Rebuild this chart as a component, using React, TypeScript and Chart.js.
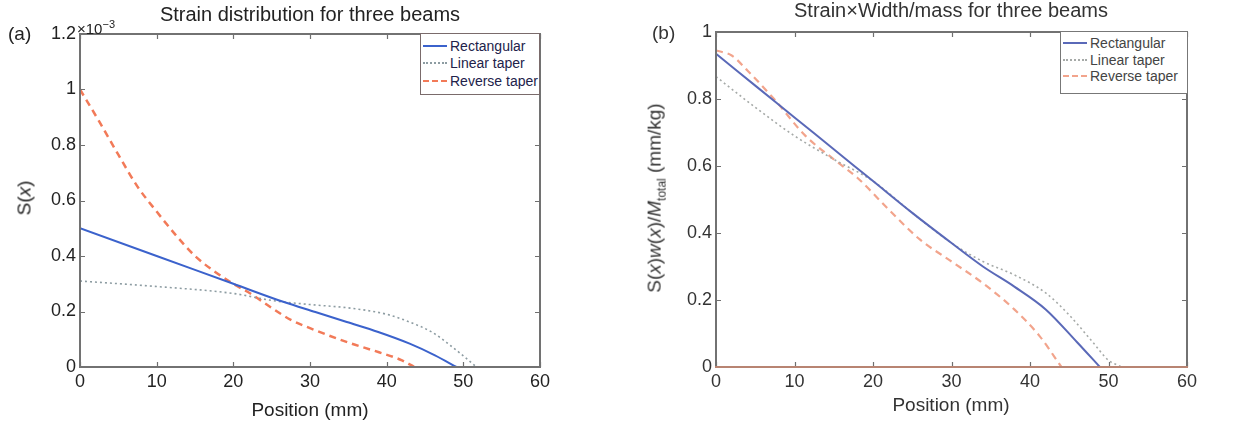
import React, { useEffect, useRef } from 'react';
import { Chart, registerables } from 'chart.js';

Chart.register(...registerables);

// ---------- data ----------
const xTickValues = [0, 10, 20, 30, 40, 50, 60];
const xTickLabels = ['0', '10', '20', '30', '40', '50', '60'];
const yTickValuesA = [0, 0.2, 0.4, 0.6, 0.8, 1.0, 1.2];
const yTickLabelsA = ['0', '0.2', '0.4', '0.6', '0.8', '1', '1.2'];
const yTickValuesB = [0, 0.2, 0.4, 0.6, 0.8, 1.0];
const yTickLabelsB = ['0', '0.2', '0.4', '0.6', '0.8', '1'];

const seriesNames = ['Rectangular', 'Linear taper', 'Reverse taper'];

// (a) strain, in units of 1e-3
const posRectA = [0, 10, 20, 26.6, 30.7, 34.8, 38.9, 43, 46.3, 49.1];
const strainRectA = [0.5, 0.4, 0.3, 0.234, 0.198, 0.162, 0.126, 0.084, 0.042, 0];
const posLinA = [0, 10, 20, 25, 30, 35, 40, 43, 46, 48.2, 50, 51.7];
const strainLinA = [0.31, 0.29, 0.265, 0.24, 0.225, 0.213, 0.19, 0.162, 0.124, 0.08, 0.04, 0];
const posRevA = [0, 2.5, 5, 7.5, 10, 12.5, 15, 17.5, 20, 22.5, 25, 27.5, 30, 35, 39, 42, 43.6];
const strainRevA = [1.0, 0.885, 0.765, 0.65, 0.56, 0.475, 0.4, 0.345, 0.3, 0.26, 0.213, 0.17, 0.14, 0.088, 0.053, 0.024, 0];

// (b) strain x width / mass (mm/kg)
const posRectB = [0, 5, 10, 15, 20, 25, 30, 34, 38, 42, 46, 48.9];
const valRectB = [0.935, 0.84, 0.745, 0.65, 0.555, 0.46, 0.37, 0.3, 0.24, 0.172, 0.074, 0];
const posLinB = [0, 5, 10, 15, 20, 25, 30, 34, 38, 42, 45, 48, 50, 51.7];
const valLinB = [0.867, 0.775, 0.69, 0.62, 0.555, 0.46, 0.37, 0.315, 0.275, 0.221, 0.155, 0.074, 0.02, 0];
const posRevB = [0, 2, 4, 7.4, 11.4, 15, 18, 22, 26, 30, 34, 38, 41.2, 44];
const valRevB = [0.945, 0.93, 0.885, 0.8, 0.69, 0.62, 0.565, 0.47, 0.38, 0.315, 0.25, 0.172, 0.093, 0];

const FONT = '"Liberation Sans", Arial, Helvetica, sans-serif';

function pts(xs: number[], ys: number[]) {
  return xs.map((x, i) => ({ x, y: ys[i] }));
}

function framePlugin(bottomColor: string) {
  return {
    id: 'frameTicks',
    afterDatasetsDraw(chart: any) {
      const { ctx, chartArea, scales } = chart;
      const { left, right, top, bottom } = chartArea;
      const xs = scales.x;
      const ys = scales.y;
      ctx.save();
      ctx.strokeStyle = '#6f6f6f';
      ctx.lineWidth = 1.2;
      ctx.beginPath();
      xs.ticks.forEach((t: any) => {
        const px = Math.round(xs.getPixelForValue(t.value)) + 0.5;
        ctx.moveTo(px, bottom);
        ctx.lineTo(px, bottom - 5);
        ctx.moveTo(px, top);
        ctx.lineTo(px, top + 5);
      });
      ys.ticks.forEach((t: any) => {
        const py = Math.round(ys.getPixelForValue(t.value)) + 0.5;
        ctx.moveTo(left, py);
        ctx.lineTo(left + 5, py);
        ctx.moveTo(right, py);
        ctx.lineTo(right - 5, py);
      });
      ctx.stroke();
      ctx.lineWidth = 2;
      ctx.strokeStyle = '#727272';
      ctx.beginPath();
      ctx.moveTo(left, bottom);
      ctx.lineTo(left, top);
      ctx.lineTo(right, top);
      ctx.lineTo(right, bottom);
      ctx.stroke();
      ctx.strokeStyle = bottomColor;
      ctx.beginPath();
      ctx.moveTo(left - 1, bottom);
      ctx.lineTo(right + 1, bottom);
      ctx.stroke();
      ctx.restore();
    },
  };
}

type PanelOpts = {
  datasets: any[];
  yTicks: number[];
  yLabels: string[];
  yMax: number;
  padTop: number;
  padRight: number;
  yAxisW: number;
  xAxisH: number;
  bottomColor: string;
  tickColor: string;
};

function buildConfig(o: PanelOpts): any {
  return {
    type: 'line',
    data: { datasets: o.datasets },
    options: {
      animation: false,
      responsive: false,
      maintainAspectRatio: false,
      parsing: true,
      layout: { padding: { left: 0, top: o.padTop, right: o.padRight, bottom: 0 } },
      plugins: {
        legend: { display: false },
        title: { display: false },
        tooltip: { enabled: false },
      },
      elements: { point: { radius: 0 }, line: { cubicInterpolationMode: 'monotone' } },
      scales: {
        x: {
          type: 'linear',
          min: 0,
          max: 60,
          afterBuildTicks: (s: any) => {
            s.ticks = xTickValues.map((v) => ({ value: v }));
          },
          afterFit: (s: any) => {
            s.height = o.xAxisH;
          },
          grid: { display: false, drawTicks: false },
          border: { display: false },
          ticks: {
            padding: 4,
            color: o.tickColor,
            autoSkip: false,
            maxRotation: 0,
            font: { family: FONT, size: 18 },
            callback: (_v: any, i: number) => xTickLabels[i],
          },
        },
        y: {
          type: 'linear',
          min: 0,
          max: o.yMax,
          afterBuildTicks: (s: any) => {
            s.ticks = o.yTicks.map((v) => ({ value: v }));
          },
          afterFit: (s: any) => {
            s.width = o.yAxisW;
          },
          grid: { display: false, drawTicks: false },
          border: { display: false },
          ticks: {
            padding: 4,
            color: o.tickColor,
            autoSkip: false,
            font: { family: FONT, size: 18 },
            callback: (_v: any, i: number) => o.yLabels[i],
          },
        },
      },
    },
    plugins: [framePlugin(o.bottomColor)],
  };
}

function Panel({ left, width, opts }: { left: number; width: number; opts: PanelOpts }) {
  const ref = useRef<HTMLCanvasElement | null>(null);
  useEffect(() => {
    if (!ref.current) return;
    const chart = new Chart(ref.current, buildConfig(opts));
    return () => chart.destroy();
  }, []);
  return (
    <canvas
      ref={ref}
      width={width}
      height={427}
      style={{ position: 'absolute', left, top: 0, width, height: 427 }}
    />
  );
}

const txt = (extra: React.CSSProperties): React.CSSProperties => ({
  position: 'absolute',
  fontFamily: FONT,
  whiteSpace: 'nowrap',
  lineHeight: 1,
  ...extra,
});

function Legend({ left, top, width, height, rows, textColor, border, colors, styles }: any) {
  return (
    <div
      style={{
        position: 'absolute',
        left,
        top,
        width,
        height,
        boxSizing: 'border-box',
        border: `1.5px solid ${border}`,
        background: '#fff',
        paddingTop: 3,
      }}
    >
      {seriesNames.map((name, i) => (
        <div key={name} style={{ display: 'flex', alignItems: 'center', height: rows }}>
          <div
            style={{
              width: 24,
              marginLeft: 2,
              marginRight: 3,
              borderTop: `2px ${styles[i]} ${colors[i]}`,
            }}
          />
          <span style={{ fontFamily: FONT, fontSize: 14, color: textColor, lineHeight: 1 }}>{name}</span>
        </div>
      ))}
    </div>
  );
}

const colorsA = ['#3b62cc', '#8d9ca2', '#f27a58'];
const colorsB = ['#5a69b8', '#a6aaa8', '#f2a48c'];
const lineStyles = ['solid', 'dotted', 'dashed'];

export default function App() {
  const datasetsA = [
    { label: seriesNames[0], data: pts(posRectA, strainRectA), borderColor: colorsA[0], borderWidth: 2, fill: false },
    { label: seriesNames[1], data: pts(posLinA, strainLinA), borderColor: colorsA[1], borderWidth: 1.6, borderDash: [2, 3], fill: false },
    { label: seriesNames[2], data: pts(posRevA, strainRevA), borderColor: colorsA[2], borderWidth: 2.5, borderDash: [7, 5], fill: false },
  ];
  const datasetsB = [
    { label: seriesNames[0], data: pts(posRectB, valRectB), borderColor: colorsB[0], borderWidth: 2, fill: false },
    { label: seriesNames[1], data: pts(posLinB, valLinB), borderColor: colorsB[1], borderWidth: 1.6, borderDash: [2, 3], fill: false },
    { label: seriesNames[2], data: pts(posRevB, valRevB), borderColor: colorsB[2], borderWidth: 2.2, borderDash: [7, 5], fill: false },
  ];
  const optsA: PanelOpts = {
    datasets: datasetsA,
    yTicks: yTickValuesA,
    yLabels: yTickLabelsA,
    yMax: 1.2,
    padTop: 34,
    padRight: 622 - 540,
    yAxisW: 80,
    xAxisH: 427 - 367,
    bottomColor: '#727272',
    tickColor: '#222',
  };
  const optsB: PanelOpts = {
    datasets: datasetsB,
    yTicks: yTickValuesB,
    yLabels: yTickLabelsB,
    yMax: 1.0,
    padTop: 32,
    padRight: 622 - (1187 - 622),
    yAxisW: 716 - 622,
    xAxisH: 427 - 367,
    bottomColor: '#b88472',
    tickColor: '#333',
  };
  return (
    <div style={{ position: 'absolute', left: 0, top: 0, width: 1244, height: 427, background: '#fff', overflow: 'hidden' }}>
      <Panel left={0} width={622} opts={optsA} />
      <Panel left={622} width={622} opts={optsB} />

      {/* panel (a) texts */}
      <div style={txt({ left: 8, top: 24, fontSize: 19, color: '#222' })}>(a)</div>
      <div style={txt({ left: 77, top: 19, fontSize: 15, color: '#222' })}>
        ×10<sup style={{ fontSize: 11, verticalAlign: 'super' }}>−3</sup>
      </div>
      <div style={txt({ left: 310, top: 4, fontSize: 20, color: '#222', transform: 'translateX(-50%)' })}>
        Strain distribution for three beams
      </div>
      <div style={txt({ left: 24, top: 198, fontSize: 19, color: '#222', transform: 'translate(-50%,-50%) rotate(-90deg)' })}>
        S(<i>x</i>)
      </div>
      <div style={txt({ left: 310, top: 400, fontSize: 19, color: '#222', transform: 'translateX(-50%)' })}>
        Position (mm)
      </div>
      <Legend
        left={420}
        top={33}
        width={120}
        height={62}
        rows={17.5}
        textColor="#22224a"
        border="#7a6b6b"
        colors={colorsA}
        styles={lineStyles}
      />

      {/* panel (b) texts */}
      <div style={txt({ left: 652, top: 23, fontSize: 19, color: '#333' })}>(b)</div>
      <div style={txt({ left: 951, top: 0, fontSize: 20, color: '#333', transform: 'translateX(-50%)' })}>
        Strain×Width/mass for three beams
      </div>
      <div style={txt({ left: 656, top: 198, fontSize: 19, color: '#333', transform: 'translate(-50%,-50%) rotate(-90deg)' })}>
        S(<i>x</i>)<i>w</i>(<i>x</i>)/<i>M</i>
        <sub style={{ fontSize: 12 }}>total</sub> (mm/kg)
      </div>
      <div style={txt({ left: 951, top: 395, fontSize: 19, color: '#333', transform: 'translateX(-50%)' })}>
        Position (mm)
      </div>
      <Legend
        left={1060}
        top={31}
        width={128}
        height={63}
        rows={16.5}
        textColor="#444"
        border="#777"
        colors={colorsB}
        styles={lineStyles}
      />
    </div>
  );
}
